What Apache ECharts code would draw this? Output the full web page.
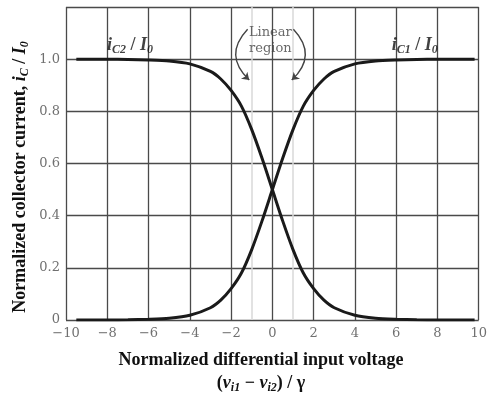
<!DOCTYPE html>
<html>
<head>
<meta charset="utf-8">
<script src="https://cdn.jsdelivr.net/npm/echarts@6/dist/echarts.min.js"></script>
<style>
  html, body { margin: 0; padding: 0; background: #fff; }
  #chart { width: 490px; height: 396px; }
</style>
</head>
<body>
<div id="chart"></div>
<script>
// normalized differential input voltage (x)
const xValues = [-9.5, -8, -7, -6, -5, -4, -3, -2.5, -2, -1.5, -1, -0.5, 0, 0.5, 1, 1.5, 2, 2.5, 3, 4, 5, 6, 7, 8, 9.8]
// iC1 / I0
const ic1 = [0, 0, 0.001, 0.003, 0.007, 0.018, 0.047, 0.076, 0.12, 0.18, 0.27, 0.38, 0.5, 0.62, 0.73, 0.82, 0.88, 0.924, 0.953, 0.982, 0.993, 0.997, 0.999, 1, 1]
// iC2 / I0
const ic2 = [1, 1, 0.999, 0.997, 0.993, 0.982, 0.953, 0.924, 0.88, 0.82, 0.73, 0.62, 0.5, 0.38, 0.27, 0.18, 0.12, 0.076, 0.047, 0.018, 0.007, 0.003, 0.001, 0, 0]

const xTicks = { min: -10, max: 10, step: 2 }
const yTicks = { min: 0, max: 1.2, step: 0.2 }

// linear region bounds and annotation anchors (data space)
const linearBounds = [-1, 1]
const curveLabels = [
  { name: "c2", pos: [-6.9, 1.052] },
  { name: "c1", pos: [6.9, 1.052] },
]
const regionLabelPos = [-0.1, 1.07]
const regionArrows = [
  { from: [-1.2, 1.115], to: [-1.12, 0.92], curve: -0.5 },
  { from: [1.02, 1.115], to: [0.94, 0.92], curve: 0.5 },
]

const serif = "DejaVu Serif"
const titleFont = "Liberation Serif"

const chart = echarts.init(document.getElementById("chart"))

const pairs = (ys) => xValues.map((x, i) => [x, ys[i]])

const labelRich = {
  it: { fontFamily: titleFont, fontStyle: "italic", fontWeight: "bold", fontSize: 18, color: "#111" },
  sub: { fontFamily: titleFont, fontStyle: "italic", fontWeight: "bold", fontSize: 12, color: "#111", padding: [9, 0, 0, 0] },
  tx: { fontFamily: titleFont, fontWeight: "bold", fontSize: 18, color: "#111" },
}

const titleRich = {
  tx: { fontFamily: titleFont, fontWeight: "bold", fontSize: 18, fill: "#111" },
  it: { fontFamily: titleFont, fontStyle: "italic", fontWeight: "bold", fontSize: 18, fill: "#111" },
  sub: { fontFamily: titleFont, fontStyle: "italic", fontWeight: "bold", fontSize: 12, fill: "#111", padding: [9, 0, 0, 0] },
}

const option = {
  backgroundColor: "#fff",
  animation: false,
  grid: { left: 66, right: 3, top: 7, bottom: 76, show: false },
  xAxis: {
    type: "value",
    min: xTicks.min,
    max: xTicks.max,
    interval: xTicks.step,
    axisLine: { show: false },
    axisTick: { show: false },
    axisLabel: {
      margin: 7,
      color: "#707070",
      fontFamily: serif,
      fontSize: 13,
      alignMinLabel: "center",
      alignMaxLabel: "center",
      formatter: (v) => (v < 0 ? "\u2212" + -v : String(v)),
    },
    splitLine: { lineStyle: { color: "#4a4a4a", width: 1.3 } },
  },
  yAxis: {
    type: "value",
    min: yTicks.min,
    max: yTicks.max,
    interval: yTicks.step,
    axisLine: { show: false },
    axisTick: { show: false },
    axisLabel: {
      margin: 6,
      color: "#707070",
      fontFamily: serif,
      fontSize: 13,
      formatter: (v) => (v === 0 ? "0" : v > 1.1 ? "" : v.toFixed(1)),
    },
    splitLine: { lineStyle: { color: "#4a4a4a", width: 1.3 } },
  },
  series: [
    {
      name: "iC1",
      type: "line",
      data: pairs(ic1),
      smooth: 0.25,
      symbol: "none",
      z: 5,
      lineStyle: { color: "#1a1a1a", width: 3 },
      markLine: {
        silent: true,
        symbol: "none",
        label: { show: false },
        lineStyle: { color: "#d8d8d8", width: 1.5, type: "solid" },
        data: linearBounds.map((x) => ({ xAxis: x })),
      },
    },
    {
      name: "iC2",
      type: "line",
      data: pairs(ic2),
      smooth: 0.25,
      symbol: "none",
      z: 5,
      lineStyle: { color: "#1a1a1a", width: 3 },
    },
    {
      name: "labels",
      type: "scatter",
      symbolSize: 0,
      z: 6,
      data: [
        ...curveLabels.map((l) => ({
          value: l.pos,
          label: {
            show: true,
            position: "inside",
            rich: labelRich,
            formatter: "{it|i}{sub|C" + (l.name === "c1" ? "1" : "2") + "}{tx| / }{it|I}{sub|0}",
          },
        })),
        {
          value: regionLabelPos,
          label: {
            show: true,
            position: "inside",
            formatter: "Linear\nregion",
            fontFamily: serif,
            fontSize: 13,
            lineHeight: 16,
            color: "#444",
            align: "center",
          },
        },
      ],
    },
    {
      name: "arrows",
      type: "lines",
      coordinateSystem: "cartesian2d",
      symbol: ["none", "arrow"],
      symbolSize: 7,
      z: 6,
      lineStyle: { color: "#444", width: 1.4, opacity: 1 },
      data: regionArrows.map((a) => ({
        coords: [a.from, a.to],
        lineStyle: { curveness: a.curve },
      })),
    },
  ],
  graphic: [
    {
      type: "text",
      x: 20,
      y: 177,
      rotation: Math.PI / 2,
      style: {
        text: "{tx|Normalized collector current, }{it|i}{sub|C}{tx| / }{it|I}{sub|0}",
        rich: titleRich,
        align: "center",
        verticalAlign: "middle",
      },
    },
    {
      type: "text",
      x: 261,
      y: 360,
      style: {
        text: "Normalized differential input voltage",
        font: "bold 18px 'Liberation Serif'",
        fill: "#111",
        align: "center",
        verticalAlign: "middle",
      },
    },
    {
      type: "text",
      x: 261,
      y: 383,
      style: {
        text: "{tx|(}{it|v}{sub|i1}{tx| \u2212 }{it|v}{sub|i2}{tx|) / \u03b3}",
        rich: titleRich,
        align: "center",
        verticalAlign: "middle",
      },
    },
  ],
}

chart.setOption(option)
</script>
</body>
</html>
